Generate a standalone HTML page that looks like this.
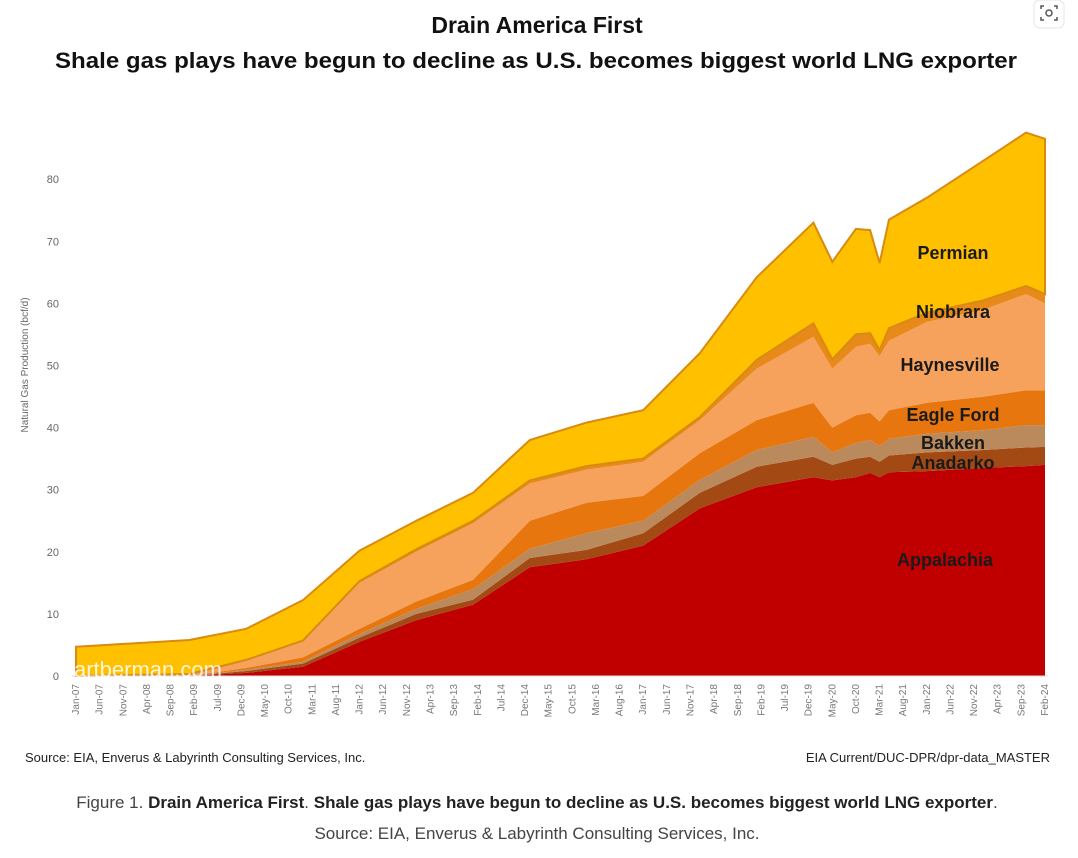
<!DOCTYPE html>
<html><head><meta charset="utf-8"><style>
html,body{margin:0;padding:0;background:#fff;}
svg{display:block;font-family:"Liberation Sans",sans-serif;}
</style></head><body>
<svg id="chart" width="1078" height="858" viewBox="0 0 1078 858">
  <text x="537" y="33" text-anchor="middle" font-size="23" font-weight="bold" fill="#111">Drain America First</text>
  <text x="536" y="68" text-anchor="middle" font-size="22" font-weight="bold" fill="#111" textLength="962" lengthAdjust="spacingAndGlyphs">Shale gas plays have begun to decline as U.S. becomes biggest world LNG exporter</text>
  <g>
    <rect x="1034" y="0" width="30" height="28" rx="6" fill="#fff" stroke="#e4e4e4"/>
    <circle cx="1049" cy="13" r="3" fill="none" stroke="#555" stroke-width="1.5"/>
    <path d="M1041 9v-3h3 M1054 6h3v3 M1057 17v3h-3 M1044 20h-3v-3" fill="none" stroke="#555" stroke-width="1.5"/>
  </g>
  <g id="areas"></g>
  <g id="yaxis"></g>
  <g id="xaxis"></g>
  <text transform="translate(28,365) rotate(-90)" text-anchor="middle" font-size="10" fill="#666">Natural Gas Production (bcf/d)</text>
  <text x="74" y="677" font-size="22" fill="#fff" fill-opacity="0.85">artberman.com</text>
  <g font-weight="bold" font-size="18" fill="#1a1a1a" text-anchor="middle">
    <text x="953" y="259">Permian</text>
    <text x="953" y="318">Niobrara</text>
    <text x="950" y="371">Haynesville</text>
    <text x="953" y="421">Eagle Ford</text>
    <text x="953" y="449">Bakken</text>
    <text x="953" y="469">Anadarko</text>
    <text x="945" y="566">Appalachia</text>
  </g>
  <text x="25" y="762" font-size="13" fill="#222">Source: EIA, Enverus &amp; Labyrinth Consulting Services, Inc.</text>
  <text x="1050" y="762" font-size="13" fill="#222" text-anchor="end">EIA Current/DUC-DPR/dpr-data_MASTER</text>
  <text x="537" y="808" font-size="17" fill="#444" text-anchor="middle">Figure 1. <tspan font-weight="bold" fill="#222">Drain America First</tspan>. <tspan font-weight="bold" fill="#222">Shale gas plays have begun to decline as U.S. becomes biggest world LNG exporter</tspan>.</text>
  <text x="537" y="839" font-size="17" fill="#444" text-anchor="middle">Source: EIA, Enverus &amp; Labyrinth Consulting Services, Inc.</text>
</svg>
<script>
const months = [0,24,36,48,60,72,84,96,108,120,132,144,156,160,165,168,170,172,180,192,201,205];
const appalachia = [0,0,0.5,1.5,5.5,9,11.5,17.5,18.8,21,27,30.4,32,31.5,32,32.7,32,32.8,33,33.5,33.8,34];
const anadarko   = [0,0,0.3,0.5,0.7,1,0.8,1.5,1.5,2,2.5,3.3,3.3,2.5,3,2.6,2.5,2.7,3,2.9,3,2.9];
const bakken     = [0,0,0.2,0.3,0.6,0.8,1.7,1.5,2.7,2,2.1,2.7,3.2,2,2.5,2.7,2.5,2.7,3,3.2,3.6,3.5];
const eagleFord  = [0,0,0.3,0.7,0.8,1.2,1.5,4.5,4.9,4,4.3,4.8,5.5,4,4.5,4.4,4,4.6,5,5.4,5.6,5.6];
const haynesville= [0,0.3,1.2,2.5,7.4,8,9.1,6,5.3,5.5,5.3,8.3,10.6,9.5,11,11.1,10.5,11.2,13,14,15.5,14];
const niobrara   = [0,0,0.1,0.2,0.3,0.4,0.4,0.5,0.6,0.5,0.5,1.4,2.2,1.5,2,1.7,1,2,1.5,1.5,1.3,1.5];
const permian    = [4.7,5.5,5,6.5,4.9,4.6,4.5,6.5,7,7.8,10.3,13.3,16.2,15.7,17,16.6,14,17.5,18.5,22.5,24.7,25];
const yTicks = [0,10,20,30,40,50,60,70,80];
const mNames = ["Jan","Feb","Mar","Apr","May","Jun","Jul","Aug","Sep","Oct","Nov","Dec"];

const NS="http://www.w3.org/2000/svg";
const X0=76, X1=1045, TMAX=205, Y0=676, PPU=6.21;
const xs = t => X0 + t*(X1-X0)/TMAX;
const ys = v => Y0 - v*PPU;

const series = [
  {name:"appalachia", vals:appalachia, fill:"#c00000"},
  {name:"anadarko", vals:anadarko, fill:"#a34a14"},
  {name:"bakken", vals:bakken, fill:"#bb8a5c"},
  {name:"eagle-ford", vals:eagleFord, fill:"#e8760f"},
  {name:"haynesville", vals:haynesville, fill:"#f6a25c"},
  {name:"niobrara", vals:niobrara, fill:"#e88a1a"},
  {name:"permian", vals:permian, fill:"#ffc000"}
];
const areas=document.getElementById('areas');
let base=months.map(()=>0);
series.forEach((s,i)=>{
  const top=base.map((b,k)=>b+s.vals[k]);
  let d="M"+months.map((t,k)=>xs(t).toFixed(1)+","+ys(top[k]).toFixed(1)).join(" L");
  for(let k=months.length-1;k>=0;k--) d+=" L"+xs(months[k]).toFixed(1)+","+ys(base[k]).toFixed(1);
  d+="Z";
  const p=document.createElementNS(NS,'path');
  p.setAttribute('d',d);
  p.setAttribute('fill',s.fill);
  if(s.name==="permian"){p.setAttribute('stroke','#d98a10');p.setAttribute('stroke-width','2');}
  
  
  areas.appendChild(p);
  base=top;
});
const yax=document.getElementById('yaxis');
yTicks.forEach(v=>{
  const t=document.createElementNS(NS,'text');
  t.setAttribute('x',59);t.setAttribute('y',ys(v)+4);
  t.setAttribute('text-anchor','end');t.setAttribute('font-size','11');t.setAttribute('fill','#666');
  t.textContent=v;
  
  
  yax.appendChild(t);
});
const xax=document.getElementById('xaxis');
const axl=document.createElementNS(NS,'line');
axl.setAttribute('x1',72);axl.setAttribute('x2',1048);axl.setAttribute('y1',Y0);axl.setAttribute('y2',Y0);
axl.setAttribute('stroke','#ddd');


xax.appendChild(axl);
for(let m=0;m<=TMAX;m+=5){
  const yr=7+Math.floor(m/12);
  const lab=mNames[m%12]+"-"+String(yr).padStart(2,"0");
  const t=document.createElementNS(NS,'text');
  const x=xs(m)+3;
  t.setAttribute('transform','translate('+x.toFixed(1)+',684) rotate(-90)');
  t.setAttribute('text-anchor','end');t.setAttribute('font-size','10');t.setAttribute('fill','#777');
  t.textContent=lab;
  
  
  xax.appendChild(t);
}
</script>
</body></html>
